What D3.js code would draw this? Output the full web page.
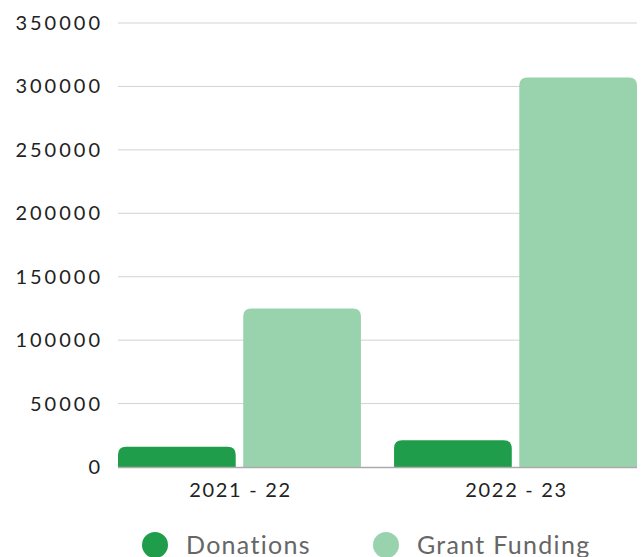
<!DOCTYPE html>
<html>
<head>
<meta charset="utf-8">
<script src="https://cdn.jsdelivr.net/npm/d3@7"></script>
<style>
  body { margin: 0; background: #fff; }
  text { font-family: Lato, "Open Sans", sans-serif; }
</style>
</head>
<body>
<div id="chart"></div>
<script>
const width = 644;
const height = 557;

// data
const years = ["2021 - 22", "2022 - 23"];
const seriesNames = ["Donations", "Grant Funding"];
const donations = [16000, 21000];
const grantFunding = [125000, 307000];
const colors = ["#1f9d4b", "#99d3ad"];
const yTicks = [0, 50000, 100000, 150000, 200000, 250000, 300000, 350000];

const values = [donations, grantFunding];

const svg = d3.select("#chart")
  .append("svg")
  .attr("width", width)
  .attr("height", height)

const x = d3.scaleBand()
  .domain(years)
  .range([118, 637])
  .paddingInner(0.12)
  .paddingOuter(0)

const xs = d3.scaleBand()
  .domain(seriesNames)
  .range([0, x.bandwidth()])
  .paddingInner(0.06)

const y = d3.scaleLinear()
  .domain([0, 350000])
  .range([467, 23])

// gridlines
svg.selectAll(".grid")
  .data(yTicks.filter(d => d > 0))
  .join("line")
    .attr("x1", 118)
    .attr("x2", 637)
    .attr("y1", d => y(d))
    .attr("y2", d => y(d))
    .style("stroke", "#d3d3d3")
    .style("stroke-width", 1)

// y tick labels (wide spacing to mimic the original font)
svg.selectAll(".ytick")
  .data(yTicks)
  .join("text")
    .attr("x", 103)
    .attr("y", d => y(d) + 7)
    .attr("text-anchor", "end")
    .style("font-size", "20px")
    .style("letter-spacing", "3px")
    .style("fill", "#222")
    .text(d => d)

// rounded-top bar path
function barPath(x0, w, yTop, yBase, r) {
  r = Math.min(r, w / 2, yBase - yTop);
  return `M${x0},${yBase}V${yTop + r}Q${x0},${yTop} ${x0 + r},${yTop}` +
    `H${x0 + w - r}Q${x0 + w},${yTop} ${x0 + w},${yTop + r}V${yBase}Z`;
}

const bars = [];
seriesNames.forEach((s, i) => {
  years.forEach((yr, j) => {
    bars.push({ series: s, year: yr, value: values[i][j], color: colors[i] });
  });
});

svg.selectAll(".bar")
  .data(bars)
  .join("path")
    .attr("d", d => barPath(x(d.year) + xs(d.series), xs.bandwidth(), y(d.value), y(0), 8))
    .style("fill", d => d.color)

// baseline
svg.append("line")
  .attr("x1", 118)
  .attr("x2", 637)
  .attr("y1", y(0) + 0.5)
  .attr("y2", y(0) + 0.5)
  .style("stroke", "#aaa")
  .style("stroke-width", 1.5)

// x labels
svg.selectAll(".xlabel")
  .data(years)
  .join("text")
    .attr("x", d => x(d) + x.bandwidth() / 2 + 1)
    .attr("y", 497)
    .attr("text-anchor", "middle")
    .style("font-size", "20px")
    .style("letter-spacing", "1.7px")
    .style("fill", "#222")
    .text(d => d)

// legend
const legendX = [155, 386];
const legend = svg.selectAll(".legend")
  .data(seriesNames)
  .join("g")
    .attr("transform", (d, i) => `translate(${legendX[i]}, 545)`)

legend.append("circle")
  .attr("r", 13)
  .style("fill", (d, i) => colors[i])

legend.append("text")
  .attr("x", 31)
  .attr("y", 9)
  .style("font-size", "25px")
  .style("letter-spacing", "1.3px")
  .style("fill", "#666")
  .text(d => d)
</script>
</body>
</html>
